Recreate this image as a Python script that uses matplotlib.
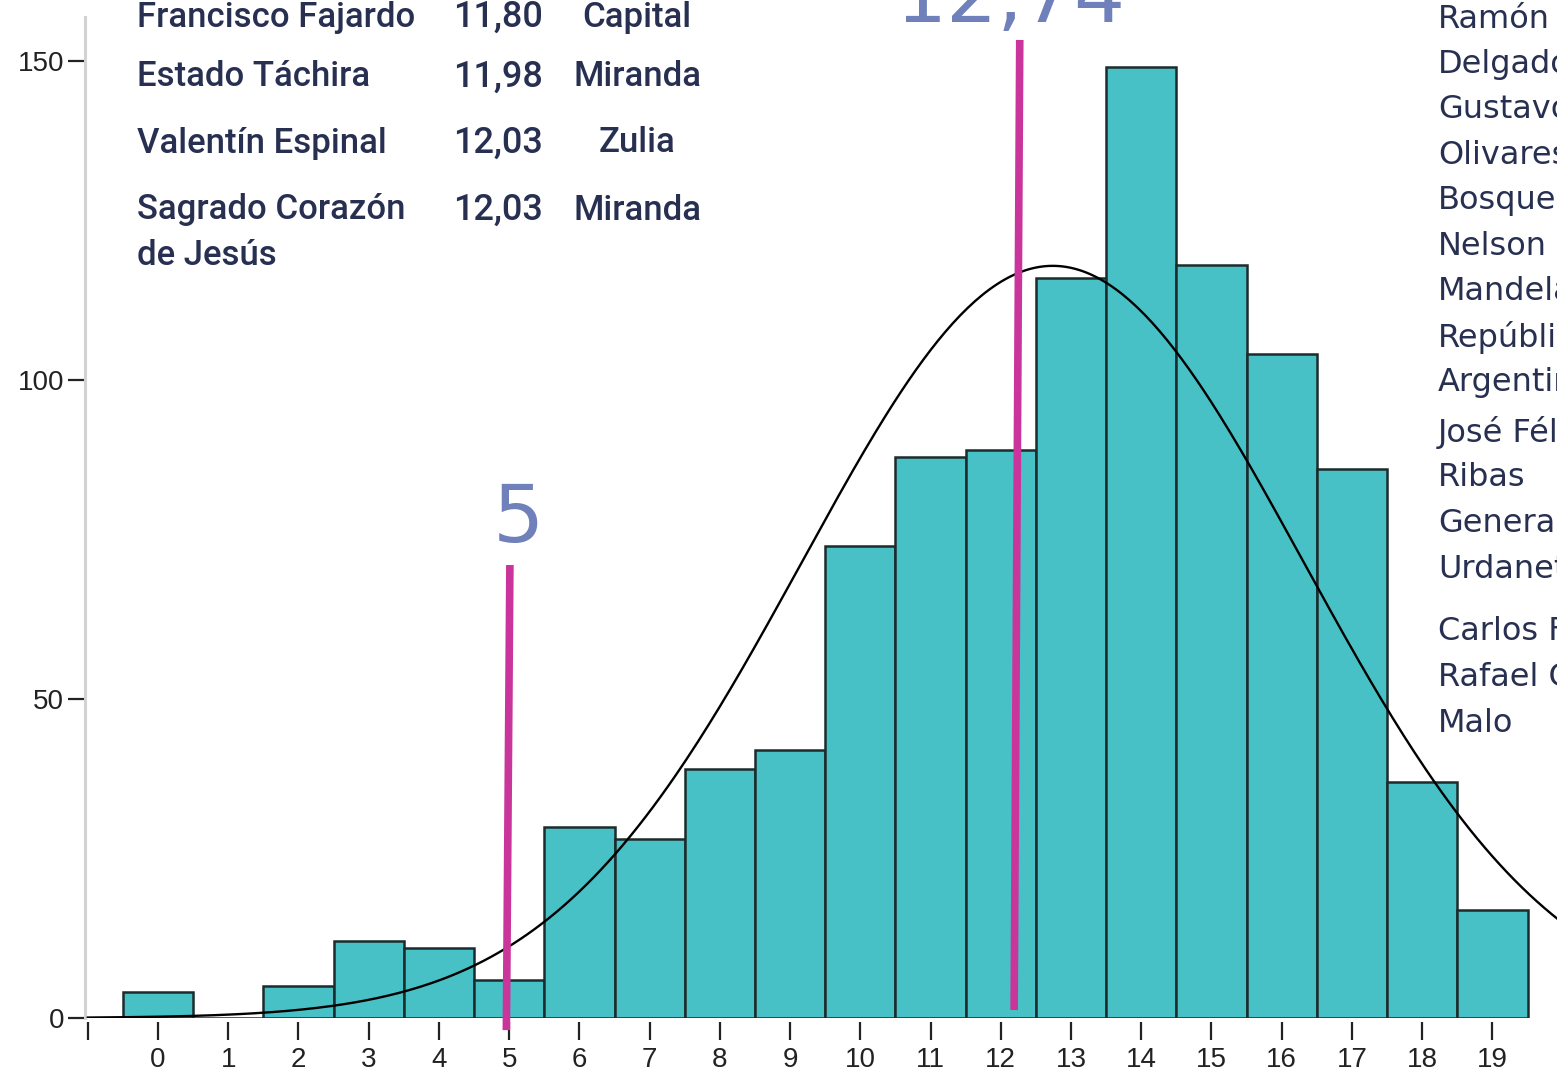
import numpy as np
import matplotlib
matplotlib.use("Agg")
import matplotlib.pyplot as plt

plt.rcParams["font.family"] = ["Liberation Sans Narrow", "Liberation Sans", "DejaVu Sans"]

# histogram counts per score (0..19)
scores = list(range(0, 20))
counts = [4, 0, 5, 12, 11, 6, 30, 28, 39, 42, 74, 88, 89, 116, 149, 118, 104, 86, 37, 17]
mean_score = 12.74
sd_score = 3.57

# hand-drawn marker lines (x_top, x_bottom, y_top, y_bottom)
line_low = [5.01, 4.96, 71.0, -1.9]
line_mean = [12.27, 12.19, 153.3, 1.25]
label_low = "5"
label_mean = "12,74"

# table of schools on the left
schools = ["Francisco Fajardo", "Estado Táchira", "Valentín Espinal", "Sagrado Corazón", "de Jesús"]
grades = ["11,80", "11,98", "12,03", "12,03", ""]
states = ["Capital", "Miranda", "Zulia", "Miranda", ""]
row_y = [17, 77, 143, 210, 255]

# list on the right (cut off by the image edge)
right_names = ["Ramón", "Delgado", "Gustavo", "Olivares", "Bosque", "Nelson", "Mandela",
               "República", "Argentina", "José Félix", "Ribas", "General", "Urdaneta",
               "Carlos F", "Rafael C", "Malo"]
right_y = [19, 65, 110, 155, 200, 246, 292, 338, 383, 432, 478, 524, 569, 632, 678, 723]

W, H = 1557, 1075
fig = plt.figure(figsize=(W / 100, H / 100), dpi=100)
ax = fig.add_axes([85 / W, 57 / H, 1 - 85 / W, (1018 - 17) / H])

ax.bar(scores, counts, width=1.0, color="#47c1c5", edgecolor="#1c2b2b", linewidth=1.8, zorder=2)

xs = np.linspace(-1, 20, 400)
n = sum(counts)
ys = n / (sd_score * np.sqrt(2 * np.pi)) * np.exp(-0.5 * ((xs - mean_score) / sd_score) ** 2)
ax.plot(xs, ys, color="black", linewidth=1.7, zorder=3)

mag = "#c9359b"
ax.plot(line_low[:2], line_low[2:], color=mag, linewidth=5.5, clip_on=False, zorder=4,
        solid_capstyle="butt")
ax.plot(line_mean[:2], line_mean[2:], color=mag, linewidth=5.5, clip_on=False, zorder=4,
        solid_capstyle="butt")

ax.set_xlim(-1.04, 19.92)
ax.set_ylim(0, 156.9)

for s in ["top", "right", "bottom"]:
    ax.spines[s].set_visible(False)
ax.spines["bottom"].set_position(("outward", 3))
ax.spines["left"].set_color("#d2d2d2")
ax.spines["left"].set_linewidth(2.2)

ax.set_xticks(range(-1, 20))
ax.set_xticklabels([""] + [str(s) for s in scores])
ax.set_yticks([0, 50, 100, 150])
ax.set_yticklabels(["0", "50", "100", "150"])
ax.tick_params(axis="x", length=13, width=1.6, color="#222222", pad=5,
               labelsize=20, labelcolor="#222222")
ax.tick_params(axis="y", length=12, width=1.6, color="#222222", pad=3,
               labelsize=20, labelcolor="#222222")

blue = "#6f80ba"
fig.text(518 / W, 1 - 520 / H, label_low, color=blue, fontsize=58, ha="center", va="center",
         family="DejaVu Sans")
fig.text(1010 / W, 1 - 22 / H, label_mean, color=blue, fontsize=58, ha="center", va="baseline",
         family="DejaVu Sans")

navy = "#283052"
tfont = ["Roboto", "DejaVu Sans"]
for name, g, st, y in zip(schools, grades, states, row_y):
    fig.text(137 / W, 1 - y / H, name, color=navy, fontsize=25, ha="left", va="center",
             family=tfont, fontweight="medium")
    if g:
        fig.text(453 / W, 1 - y / H, g, color=navy, fontsize=26, ha="left", va="center",
                 family=tfont, fontweight="medium")
    if st:
        fig.text(637 / W, 1 - y / H, st, color=navy, fontsize=25, ha="center", va="center",
                 family=tfont, fontweight="medium")

for name, y in zip(right_names, right_y):
    fig.text(1438 / W, 1 - y / H, name, color=navy, fontsize=23, ha="left", va="center",
             family="DejaVu Sans")

fig.savefig("out.png", dpi=100)
